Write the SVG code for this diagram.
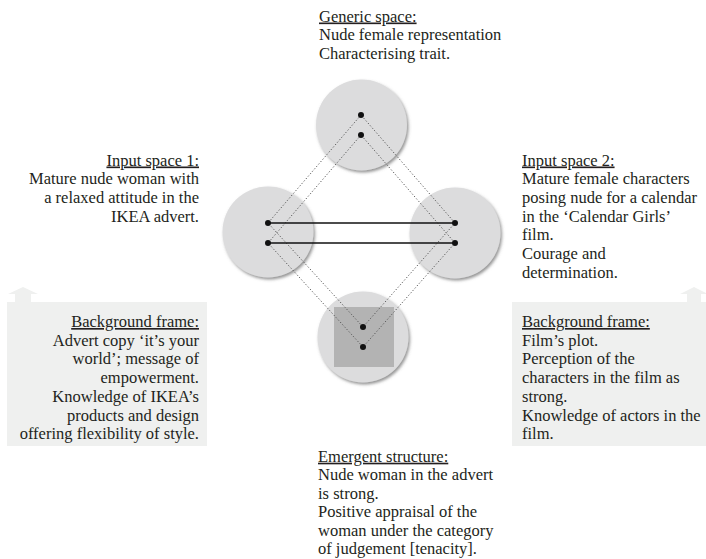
<svg xmlns="http://www.w3.org/2000/svg" width="706" height="559" viewBox="0 0 706 559">
<style>
text{font-family:"Liberation Serif","Times New Roman",serif;font-size:16.5px;fill:#231f20}
.h{text-decoration:underline}
.r{text-anchor:end}
.space{fill:#dcdcdd;filter:url(#sh)}
.dot{fill:#111}
.dl{stroke:#555;stroke-width:1;stroke-dasharray:1.2 2;fill:none}
.sl{stroke:#111;stroke-width:1.3}
.frame{fill:#eff0ef}
</style>
<defs>
<filter id="sh" x="-20%" y="-20%" width="150%" height="150%">
<feDropShadow dx="1.5" dy="2" stdDeviation="1.5" flood-color="#666" flood-opacity="0.7"/>
</filter>
</defs>

<g id="frame-left">
<polygon class="frame" points="7,302 15,302 15,294 8,294 23,287 38,294 31,294 31,302 207,302 207,446 7,446"/>
<text class="r" x="199" y="327"><tspan class="h">Background frame:</tspan></text>
<text class="r" x="199" y="345.7">Advert copy ‘it’s your</text>
<text class="r" x="199" y="364.4">world’; message of</text>
<text class="r" x="199" y="383.1">empowerment.</text>
<text class="r" x="199" y="401.8">Knowledge of IKEA’s</text>
<text class="r" x="199" y="420.5">products and design</text>
<text class="r" x="199" y="439.2">offering flexibility of style.</text>
</g>

<g id="frame-right">
<polygon class="frame" points="512,302 687,302 687,294 680,294 694,287 708,294 701,294 701,302 706,302 706,446 512,446"/>
<text x="522" y="327"><tspan class="h">Background frame:</tspan></text>
<text x="522" y="345.7">Film’s plot.</text>
<text x="522" y="364.4">Perception of the</text>
<text x="522" y="383.1">characters in the film as</text>
<text x="522" y="401.8">strong.</text>
<text x="522" y="420.5">Knowledge of actors in the</text>
<text x="522" y="439.2">film.</text>
</g>

<g id="generic-space">
<circle class="space" cx="361.5" cy="125" r="45.5"/>
<text x="319" y="21.5"><tspan class="h">Generic space:</tspan></text>
<text x="319" y="40.2">Nude female representation</text>
<text x="319" y="58.9">Characterising trait.</text>
</g>

<g id="input-space-1">
<circle class="space" cx="268" cy="232" r="45.5"/>
<text class="r" x="199" y="165.5"><tspan class="h">Input space 1:</tspan></text>
<text class="r" x="199" y="184.2">Mature nude woman with</text>
<text class="r" x="199" y="202.9">a relaxed attitude in the</text>
<text class="r" x="199" y="221.6">IKEA advert.</text>
</g>

<g id="input-space-2">
<circle class="space" cx="455" cy="233" r="45.5"/>
<text x="522" y="165.5"><tspan class="h">Input space 2:</tspan></text>
<text x="522" y="184.2">Mature female characters</text>
<text x="522" y="202.9">posing nude for a calendar</text>
<text x="522" y="221.6">in the ‘Calendar Girls’</text>
<text x="522" y="240.3">film.</text>
<text x="522" y="259">Courage and</text>
<text x="522" y="277.7">determination.</text>
</g>

<g id="emergent-structure">
<circle class="space" cx="363" cy="337" r="45.5"/>
<rect x="334" y="307" width="60" height="60" fill="#b3b3b3"/>
<text x="318" y="461.7"><tspan class="h">Emergent structure:</tspan></text>
<text x="318" y="480.2">Nude woman in the advert</text>
<text x="318" y="498.7">is strong.</text>
<text x="318" y="517.2">Positive appraisal of the</text>
<text x="318" y="535.7">woman under the category</text>
<text x="318" y="554.2">of judgement [tenacity].</text>
</g>

<g id="connectors">
<polyline class="dl" points="361,115 268,223 363,327 455,223 361,115"/>
<polyline class="dl" points="361,135 268,243 363,347 455,243 361,135"/>
<line class="sl" x1="268" y1="223" x2="455" y2="223"/>
<line class="sl" x1="268" y1="243" x2="455" y2="243"/>
<circle class="dot" cx="361" cy="115" r="3"/>
<circle class="dot" cx="361" cy="135" r="3"/>
<circle class="dot" cx="268" cy="223" r="3"/>
<circle class="dot" cx="268" cy="243" r="3"/>
<circle class="dot" cx="455" cy="223" r="3"/>
<circle class="dot" cx="455" cy="243" r="3"/>
<circle class="dot" cx="363" cy="327" r="3"/>
<circle class="dot" cx="363" cy="347" r="3"/>
</g>
</svg>
